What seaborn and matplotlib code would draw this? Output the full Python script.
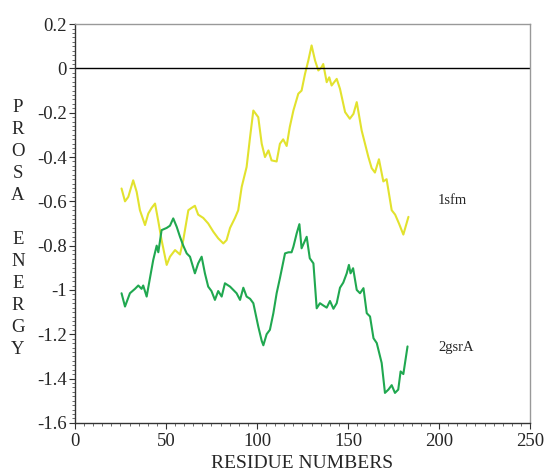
import numpy as np
import pandas as pd
import matplotlib
matplotlib.use("Agg")
import matplotlib.pyplot as plt
import seaborn as sns
from matplotlib.ticker import MultipleLocator

# 1sfm (yellow) profile
res_1sfm = [25.6, 27.5, 29.3, 32, 33.9, 35.7, 38.5, 40.3, 42.1, 44, 45.8, 47.6,
            50.4, 52.2, 55, 57.7, 59.5, 62.3, 64, 65.9, 67.7, 70.5, 73.2, 76,
            78.7, 81.5, 83.3, 85.2, 87.9, 89.7, 91.6, 94.3, 96.2, 98, 100.7,
            102.6, 104.4, 106.3, 108, 110.8, 112.6, 114.4, 116.3, 118, 120,
            122.7, 124.5, 126.4, 128.2, 130, 131.9, 133.7, 135.5, 136.4, 138.3,
            139.7, 141, 143.8, 145.6, 148.4, 151, 153, 154.8, 157.5, 161.2, 163,
            164.8, 167, 169.4, 171.2, 174, 175.9, 178, 180.4, 183.2]
energy_1sfm = [-0.542, -0.60, -0.58, -0.505, -0.557, -0.64, -0.707, -0.655, -0.63,
               -0.61, -0.69, -0.775, -0.887, -0.85, -0.82, -0.84, -0.775, -0.64,
               -0.63, -0.62, -0.66, -0.675, -0.70, -0.737, -0.767, -0.79, -0.775,
               -0.72, -0.675, -0.64, -0.535, -0.445, -0.31, -0.19, -0.22, -0.34,
               -0.40, -0.37, -0.415, -0.42, -0.34, -0.32, -0.35, -0.265, -0.19,
               -0.114, -0.10, -0.024, 0.036, 0.104, 0.036, -0.009, 0.006, 0.02,
               -0.062, -0.04, -0.077, -0.047, -0.092, -0.197, -0.227, -0.205,
               -0.152, -0.28, -0.40, -0.45, -0.47, -0.41, -0.51, -0.50, -0.64,
               -0.66, -0.70, -0.75, -0.67]

# 2gsrA (green) profile
res_2gsrA = [25.6, 27.5, 30.2, 33, 34.8, 36.6, 37.5, 39.4, 41.2, 43, 44.9, 45.8,
             47.6, 50.4, 52.2, 54, 55.9, 57.7, 59.5, 61.4, 63.2, 65.9, 67.7, 69.6,
             71.4, 73.2, 75, 76.9, 78.7, 80.6, 82.4, 85.2, 88.8, 90.7, 92.5, 94.3,
             96.2, 98, 100.7, 102.6, 103.5, 105.3, 107.1, 109, 110.8, 112.6,
             115.4, 117.3, 119, 120, 121.8, 123.3, 124.5, 127.3, 129, 131, 132.8,
             134.6, 136.4, 138.3, 140.1, 142, 143.8, 145.6, 147.4, 149.3, 150.5,
             151.4, 152.8, 154.8, 156.6, 158.5, 160.3, 162.1, 164, 165.8, 168.5,
             170.3, 172.2, 174, 175.8, 177.6, 178.9, 180.4, 182.7]
energy_2gsrA = [-1.015, -1.075, -1.015, -0.995, -0.98, -0.995, -0.98, -1.03, -0.947,
                -0.865, -0.80, -0.83, -0.73, -0.72, -0.71, -0.677, -0.715, -0.76,
                -0.80, -0.835, -0.85, -0.925, -0.88, -0.85, -0.925, -0.985, -1.005,
                -1.045, -1.005, -1.03, -0.97, -0.985, -1.015, -1.045, -0.99, -1.03,
                -1.04, -1.06, -1.165, -1.23, -1.25, -1.20, -1.18, -1.105, -1.015,
                -0.947, -0.835, -0.83, -0.83, -0.805, -0.745, -0.703, -0.812, -0.76,
                -0.857, -0.88, -1.083, -1.06, -1.07, -1.08, -1.05, -1.085, -1.06,
                -0.99, -0.967, -0.925, -0.887, -0.925, -0.902, -1.00, -1.015, -0.992,
                -1.105, -1.12, -1.218, -1.24, -1.33, -1.465, -1.45, -1.43, -1.465,
                -1.45, -1.368, -1.38, -1.255]

df = pd.concat([
    pd.DataFrame({"residue": res_1sfm, "energy": energy_1sfm, "protein": "1sfm"}),
    pd.DataFrame({"residue": res_2gsrA, "energy": energy_2gsrA, "protein": "2gsrA"}),
])

sns.set_style("ticks")
plt.rcParams["font.family"] = ["Liberation Serif", "DejaVu Serif"]

fig = plt.figure(figsize=(5.47, 4.74), dpi=100)
ax = fig.add_axes([0.137, 0.108, 0.832, 0.841])

sns.lineplot(data=df, x="residue", y="energy", hue="protein",
             palette={"1sfm": "#e2e22e", "2gsrA": "#20a850"},
             linewidth=1.5, legend=False, ax=ax)
ax.axhline(0, color="black", linewidth=1)

ax.set_xlim(0, 250)
ax.set_ylim(-1.6, 0.2)
ax.xaxis.set_major_locator(MultipleLocator(50))
ax.xaxis.set_minor_locator(MultipleLocator(5))
ax.yaxis.set_minor_locator(MultipleLocator(0.02))
ax.set_yticks(np.arange(-1.6, 0.21, 0.2))
ax.set_yticklabels(["-1.6", "-1.4", "-1.2", "-1", "-0.8", "-0.6", "-0.4", "-0.2", "0", "0.2"])
ax.tick_params(axis="both", which="major", labelsize=13.5, length=4, width=0.8, color="#333333")
ax.tick_params(axis="both", which="minor", length=2.5, width=0.6, color="#555555")
ax.tick_params(axis="x", pad=3)
ax.tick_params(axis="y", pad=2)

for side in ["top", "right"]:
    ax.spines[side].set_visible(True)
    ax.spines[side].set_color("#999999")
    ax.spines[side].set_linewidth(1)
for side in ["left", "bottom"]:
    ax.spines[side].set_color("#333333")
    ax.spines[side].set_linewidth(1)

ax.set_xlabel("RESIDUE NUMBERS", fontsize=14, labelpad=4)
ax.set_ylabel("")
# stacked vertical axis title, one letter per line
fig.text(0.033, 0.518, "P\nR\nO\nS\nA\n\nE\nN\nE\nR\nG\nY", fontsize=13.5,
         ha="center", va="center", linespacing=1.38)

ax.text(199.5, -0.595, "1sfm", fontsize=10.5, va="center")
ax.text(199.5, -1.26, "2gsrA", fontsize=10.5, va="center")

fig.savefig("out.png", dpi=100)
